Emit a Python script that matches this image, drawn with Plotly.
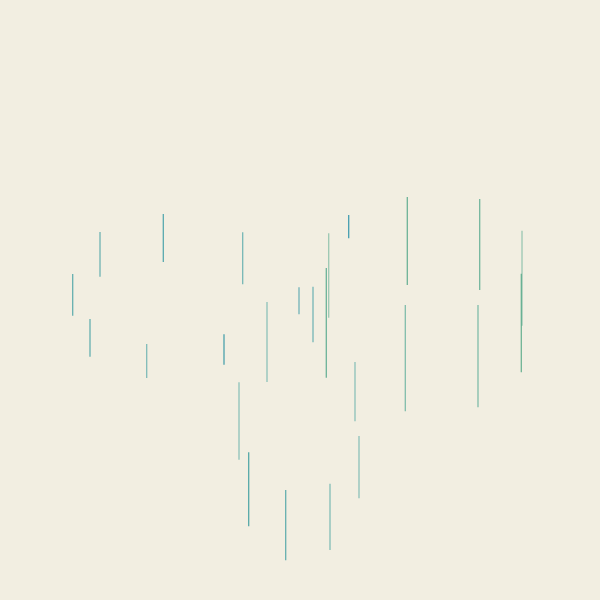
import plotly.graph_objects as go
from plotly.colors import sample_colorscale

# Segment data (x position, upper value, lower value)
seg_x    = [72.7, 90, 100, 146.7, 163.3, 224, 239, 242.7, 248.7, 267, 285.7, 299, 313,
            326.3, 328.7, 330, 348.7, 355, 359, 405.3, 407.3, 478, 479.7, 521.3, 522]
seg_high = [326.0, 281.0, 368.0, 256.0, 386.0, 265.7, 217.7, 367.7, 147.7, 298.0, 110.0, 312.7, 313.3,
            332.0, 366.7, 116.3, 385.0, 238.0, 164.0, 295.0, 403.0, 295.0, 401.0, 326.3, 369.3]
seg_low  = [284.3, 243.3, 323.3, 222.0, 338.0, 235.3, 140.3, 315.7, 73.7, 218.0, 39.7, 285.7, 257.7,
            222.3, 282.3, 50.0, 361.7, 178.7, 101.7, 188.7, 315.0, 192.7, 310.0, 227.7, 274.3]
# colour metric (0 = blue-teal, 1 = green) and weight (opacity) per segment
seg_tone   = [0.35, 0.35, 0.35, 0.35, 0.25, 0.2, 0.5, 0.35, 0.4, 0.5, 0.35, 0.2, 0.3,
              0.8, 0.8, 0.45, 0.05, 0.45, 0.45, 0.7, 0.85, 0.7, 0.8, 0.9, 0.8]
seg_weight = [0.8, 0.8, 0.75, 0.65, 0.85, 0.9, 0.6, 0.7, 0.9, 0.6, 0.8, 0.7, 0.7,
              0.85, 0.55, 0.65, 0.9, 0.6, 0.6, 0.7, 0.85, 0.7, 0.8, 0.85, 0.55]

scale = [[0.0, "#2f93ad"], [0.5, "#4aa59f"], [1.0, "#5aaa80"]]
colors = sample_colorscale(scale, seg_tone)

fig = go.Figure()
for x, hi, lo, c, w in zip(seg_x, seg_high, seg_low, colors, seg_weight):
    fig.add_trace(go.Scatter(
        x=[x, x], y=[lo, hi], mode="lines",
        line=dict(color=c, width=1.3), opacity=w,
        showlegend=False, hoverinfo="skip",
    ))

bg = "#f2eee1"
fig.update_layout(
    width=600, height=600,
    margin=dict(l=0, r=0, t=0, b=0),
    paper_bgcolor=bg, plot_bgcolor=bg,
    xaxis=dict(range=[0, 600], visible=False),
    yaxis=dict(range=[0, 600], visible=False),
)
fig.write_html(
    "out.html",
    config={"displayModeBar": False},
    post_script="document.body.style.margin='0';document.body.style.background='%s';" % bg,
)
